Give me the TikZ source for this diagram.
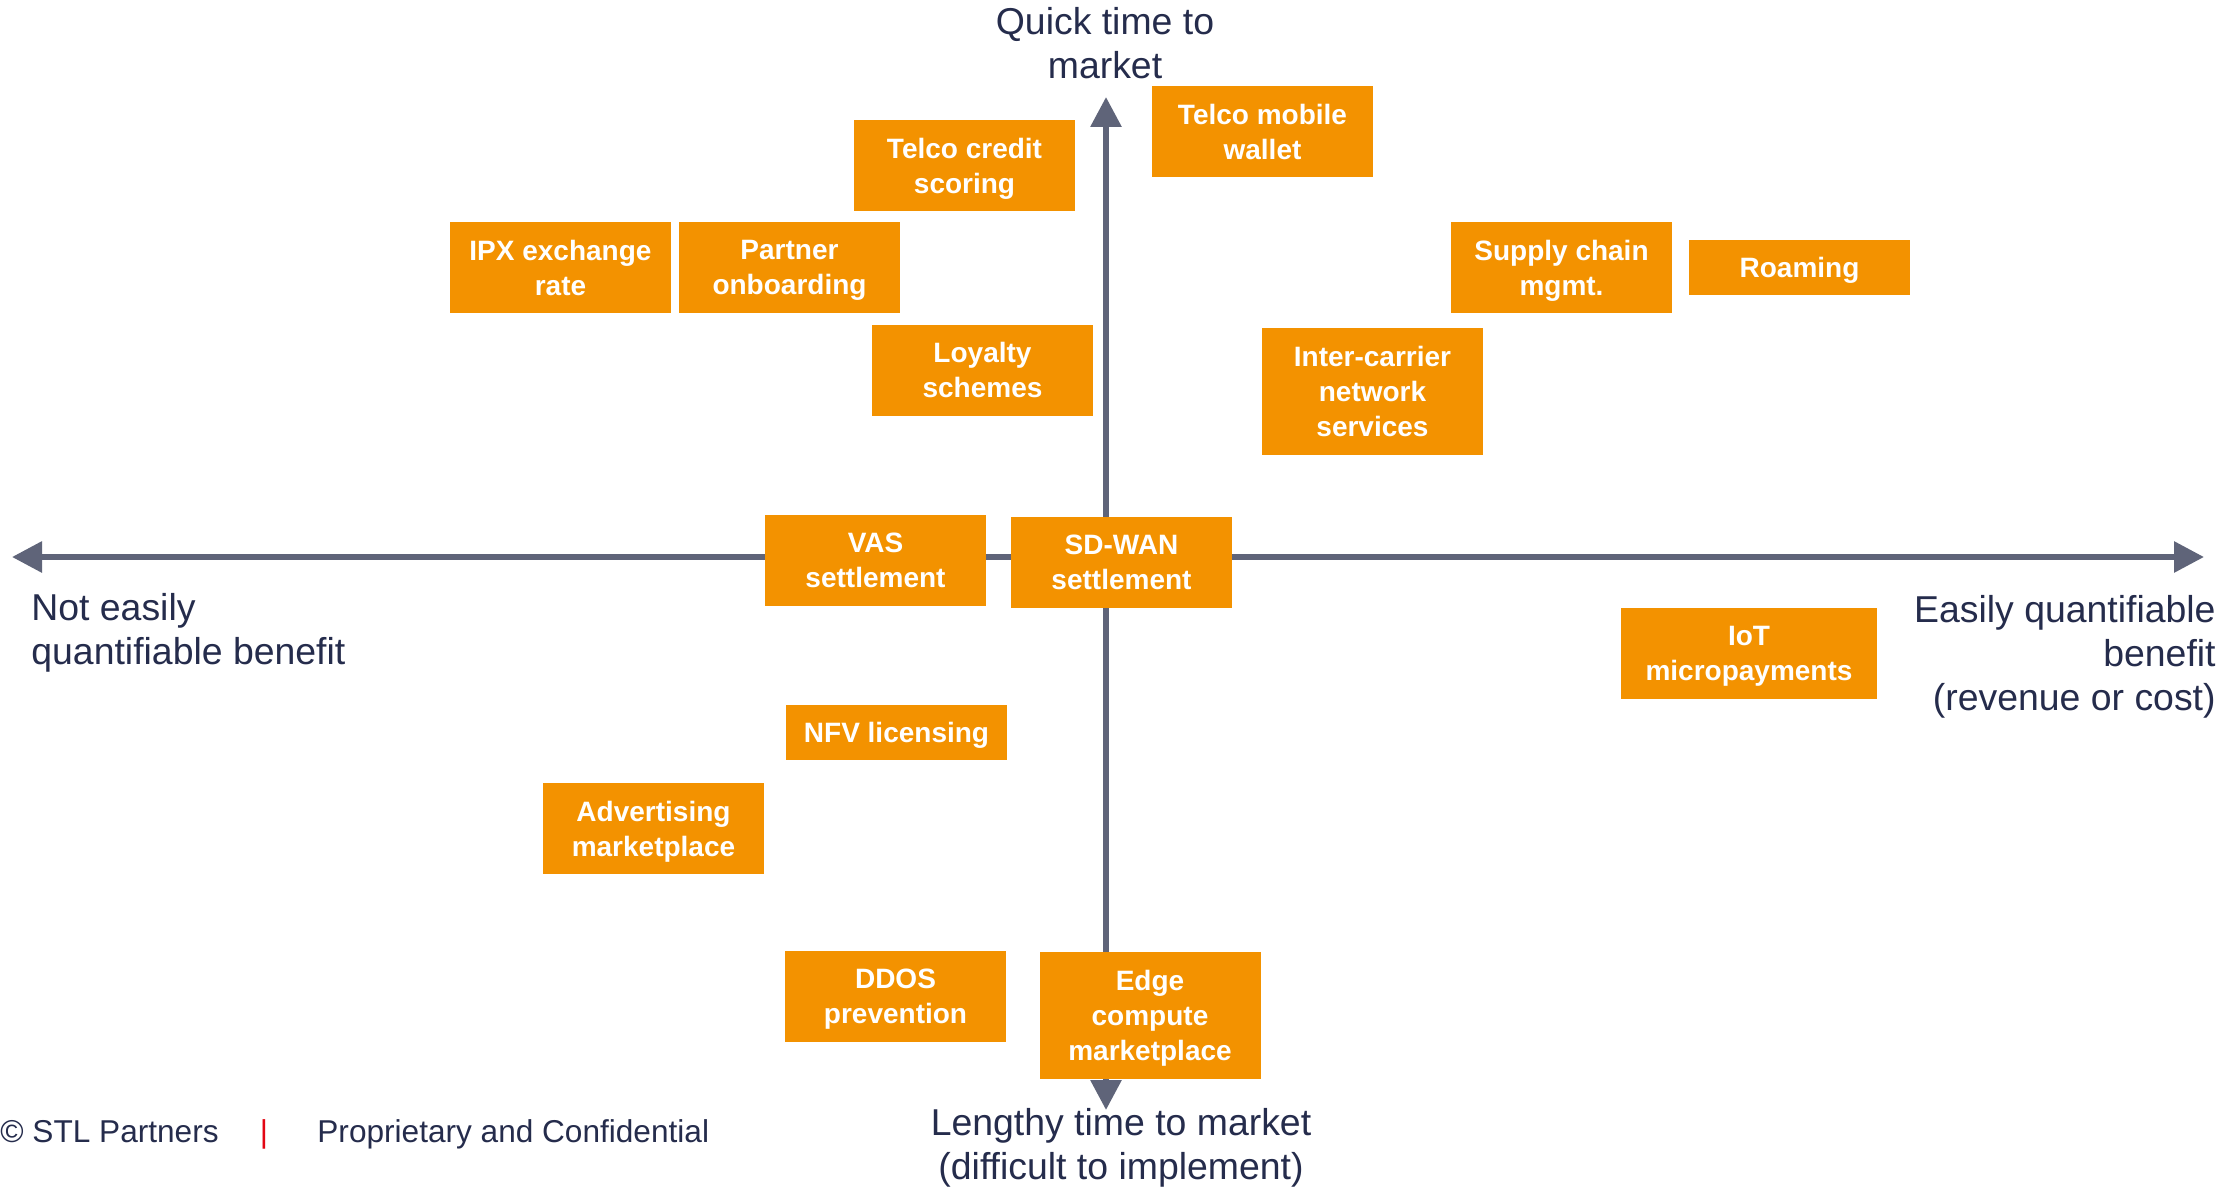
\documentclass[tikz,border=0pt]{standalone}
\usepackage{fontspec}
\setmainfont{Liberation Sans}
\usetikzlibrary{arrows.meta}
\definecolor{boxorange}{HTML}{F39200}
\definecolor{navy}{HTML}{252C4C}
\definecolor{axisgray}{HTML}{5F6479}
\definecolor{footred}{HTML}{E30613}
\tikzset{
  stlbox/.style={fill=boxorange, text=white, align=center, inner sep=0pt,
    minimum width=110.5pt, minimum height=45.5pt, text depth=0pt,
    font=\fontsize{14}{17.5}\selectfont\bfseries},
  onebox/.style={stlbox, minimum height=27.5pt},
  threebox/.style={stlbox, minimum height=63.5pt},
  axislabel/.style={inner sep=0pt, text=navy, font=\fontsize{18.7}{22}\selectfont},
  footlabel/.style={inner sep=0pt, text=navy, font=\fontsize{15.8}{18}\selectfont},
  axisline/.style={draw=axisgray, line width=3pt,
    arrows={Triangle[length=15pt,width=15pt,fill=axisgray]-Triangle[length=15pt,width=15pt,fill=axisgray]}}
}
\begin{document}
\begin{tikzpicture}[x=0.5pt,y=-0.5pt]
\useasboundingbox[fill=white] (0,0) rectangle (2238,1188);
% axes
\coordinate (xleft) at (12,557);
\coordinate (xright) at (2204,557);
\coordinate (ytop) at (1106,97);
\coordinate (ybottom) at (1106,1110);
\draw[axisline] (xleft) -- (xright);
\draw[axisline] (ybottom) -- (ytop);
% axis labels
\node[axislabel, anchor=base] (qtop) at (1105,35)
  {\begin{tabular}[t]{@{}c@{}}Quick time to\\market\end{tabular}};
\node[axislabel, anchor=base west] (qleft) at (31,620)
  {\begin{tabular}[t]{@{}l@{}}Not easily\\quantifiable benefit\end{tabular}};
\node[axislabel, anchor=base east] (qright) at (2216,622)
  {\begin{tabular}[t]{@{}r@{}}Easily quantifiable\\benefit\\(revenue or cost)\end{tabular}};
\node[axislabel, anchor=base] (qbottom) at (1121,1135)
  {\begin{tabular}[t]{@{}c@{}}Lengthy time to market\\(difficult to implement)\end{tabular}};
% boxes
\node[stlbox] (credit) at (964.5,165.5) {Telco credit\\scoring};
\node[stlbox] (wallet) at (1262.5,131.5) {Telco mobile\\wallet};
\node[stlbox] (ipx) at (560.5,267.5) {IPX exchange\\rate};
\node[stlbox] (partner) at (789.5,267.5) {Partner\\onboarding};
\node[stlbox] (loyalty) at (982.5,370) {Loyalty\\schemes};
\node[stlbox] (supply) at (1561.5,267.5) {Supply chain\\mgmt.};
\node[onebox] (roaming) at (1799.5,267.5) {Roaming};
\node[threebox] (inter) at (1372.5,391.5) {Inter-carrier\\network\\services};
\node[stlbox] (vas) at (875.5,560.5) {VAS\\settlement};
\node[stlbox] (sdwan) at (1121.5,562.5) {SD-WAN\\settlement};
\node[stlbox, minimum width=128pt] (iot) at (1749,653.5) {IoT\\micropayments};
\node[onebox] (nfv) at (896.5,732.5) {NFV licensing};
\node[stlbox] (adv) at (653.5,828.5) {Advertising\\marketplace};
\node[stlbox] (ddos) at (895.5,996) {DDOS\\prevention};
\node[threebox] (edge) at (1150,1015) {Edge\\compute\\marketplace};
% footer
\node[footlabel, anchor=base west] (copy) at (0,1142) {© STL Partners};
\node[footlabel, anchor=base, text=footred] (bar) at (264,1142) {|};
\node[footlabel, anchor=base west] (conf) at (317,1142) {Proprietary and Confidential};
\end{tikzpicture}
\end{document}
